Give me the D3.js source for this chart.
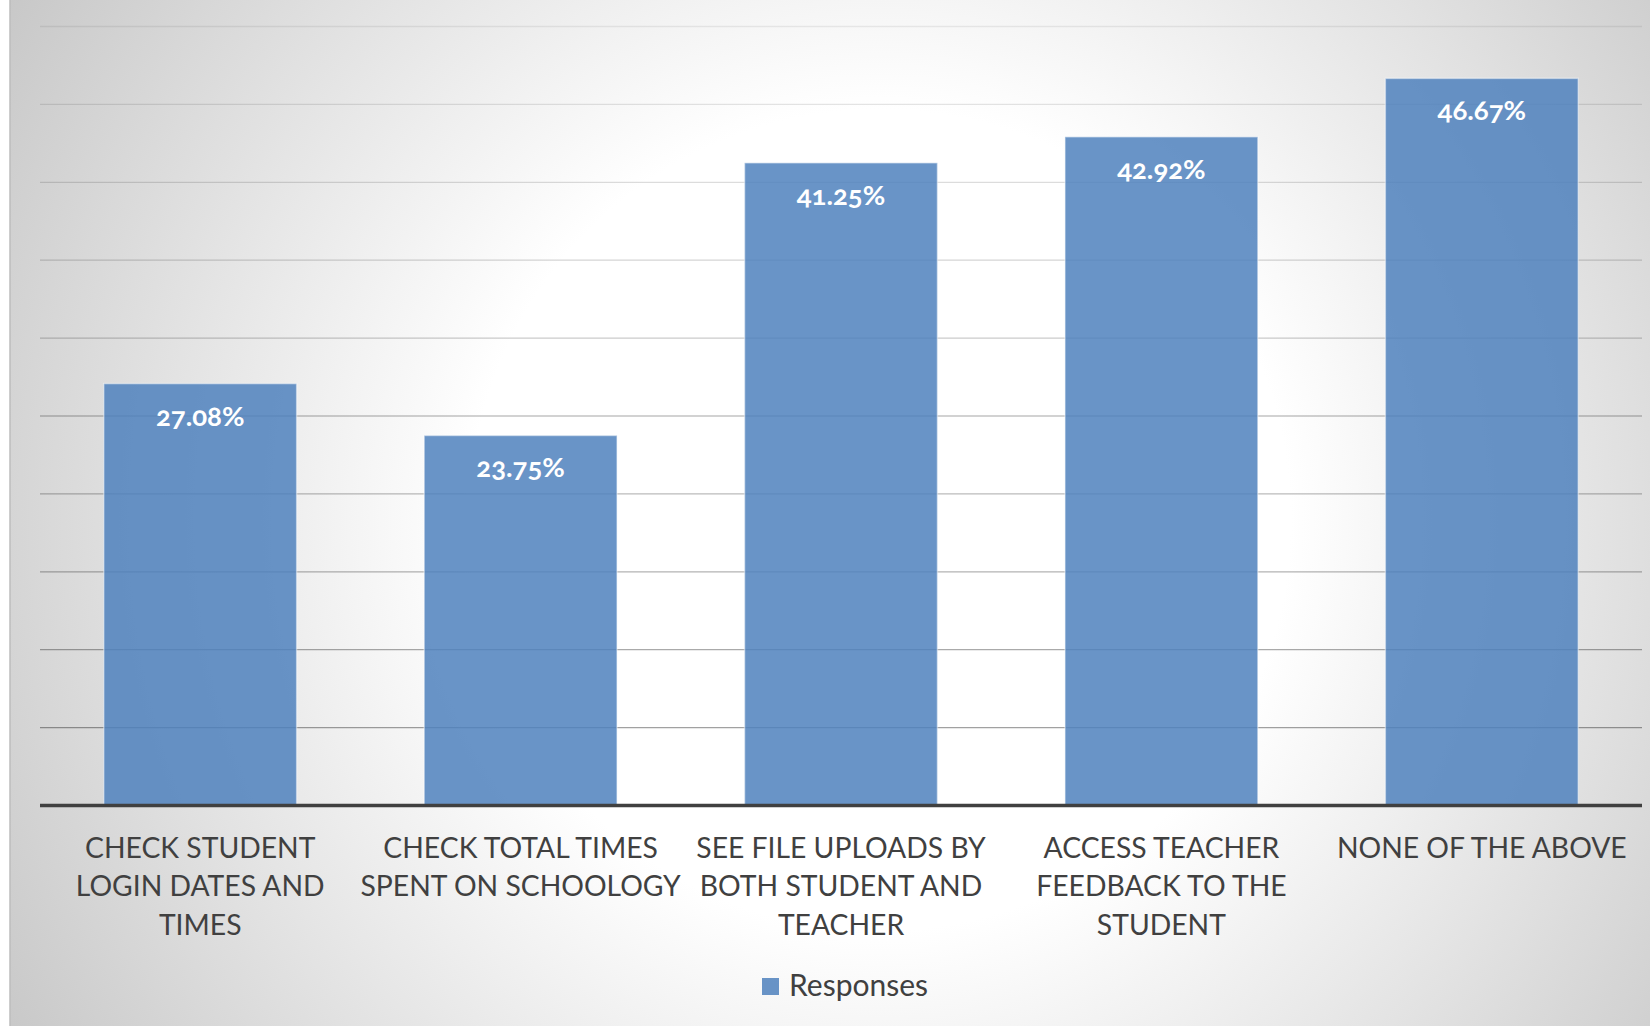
<!DOCTYPE html>
<html>
<head>
<meta charset="utf-8">
<script src="https://cdn.jsdelivr.net/npm/d3@7"></script>
<style>
  html, body { margin: 0; padding: 0; background: #ffffff; }
  svg { display: block; }
  text { font-family: Lato, "Open Sans", sans-serif; }
</style>
</head>
<body>
<svg id="chart" width="1650" height="1026"></svg>
<script>
// ---- data ----
const categories = [
  "CHECK STUDENT\nLOGIN DATES AND\nTIMES",
  "CHECK TOTAL TIMES\nSPENT ON SCHOOLOGY",
  "SEE FILE UPLOADS BY\nBOTH STUDENT AND\nTEACHER",
  "ACCESS TEACHER\nFEEDBACK TO THE\nSTUDENT",
  "NONE OF THE ABOVE"
];
const responses = [27.08, 23.75, 41.25, 42.92, 46.67];
const gridTicks = [5, 10, 15, 20, 25, 30, 35, 40, 45, 50];
const seriesName = "Responses";

// ---- layout ----
const W = 1650, H = 1026;
const plot = { left: 40, right: 1642, top: 26.5, bottom: 805.5 };
const svg = d3.select("#chart");
const defs = svg.append("defs");

const bg = defs.append("radialGradient").attr("id", "bg")
  .attr("gradientUnits", "userSpaceOnUse")
  .attr("cx", 880).attr("cy", 520).attr("r", 1080);
bg.append("stop").attr("offset", 0).attr("stop-color", "#ffffff");
bg.append("stop").attr("offset", 0.38).attr("stop-color", "#ffffff");
bg.append("stop").attr("offset", 1).attr("stop-color", "#c2c2c2");

svg.append("rect").attr("x", 0).attr("y", 0).attr("width", W).attr("height", H).attr("fill", "#ffffff");
svg.append("rect").attr("x", 10).attr("y", 0).attr("width", W - 10).attr("height", H).attr("fill", "url(#bg)");
svg.append("line").attr("x1", 10).attr("x2", 10).attr("y1", 0).attr("y2", H)
  .attr("stroke", "#bdbdbd").attr("stroke-width", 1.5);

const x = d3.scaleBand().domain(categories).range([plot.left, plot.right])
  .paddingInner(0.398).paddingOuter(0.199);
const y = d3.scaleLinear().domain([0, 50]).range([plot.bottom, plot.top]);

// gridlines
svg.append("g").selectAll("line").data(gridTicks).join("line")
  .attr("x1", plot.left).attr("x2", plot.right)
  .attr("y1", d => y(d)).attr("y2", d => y(d))
  .attr("stroke", d => `rgba(0,0,0,${0.06 + 0.34 * (y(d) / plot.bottom)})`)
  .attr("stroke-width", 1.3);

// bars
const barFill = "#4f81bd";
svg.append("g").selectAll("rect").data(responses).join("rect")
  .attr("x", (d, i) => x(categories[i]))
  .attr("y", d => y(d))
  .attr("width", x.bandwidth())
  .attr("height", d => y(0) - y(d))
  .attr("fill", barFill).attr("fill-opacity", 0.85)
  .attr("stroke", "rgba(255,255,255,0.45)").attr("stroke-width", 1.5);

// data labels
svg.append("g").selectAll("text").data(responses).join("text")
  .attr("x", (d, i) => x(categories[i]) + x.bandwidth() / 2)
  .attr("y", d => y(d) + 42)
  .attr("text-anchor", "middle")
  .attr("fill", "#ffffff")
  .attr("font-weight", "bold")
  .attr("font-size", 27.5)
  .style("font-variant-numeric", "oldstyle-nums")
  .text(d => d.toFixed(2) + "%");

// x axis
const xAxis = d3.axisBottom(x).tickSize(0).tickPadding(0);
const gx = svg.append("g").attr("transform", `translate(0,${plot.bottom})`).call(xAxis);
gx.select(".domain").attr("stroke", "#404040").attr("stroke-width", 3.5)
  .attr("d", `M${plot.left},0H${plot.right}`);
gx.selectAll(".tick text").remove();
gx.selectAll(".tick").each(function(d) {
  const t = d3.select(this).append("text")
    .attr("text-anchor", "middle")
    .attr("fill", "#404040")
    .attr("font-size", 28.3);
  d.split("\n").forEach((ln, i) => {
    t.append("tspan").attr("x", 0).attr("y", 52 + i * 38.5).text(ln);
  });
});

// legend
const lg = svg.append("g").attr("transform", "translate(762,978)");
lg.append("rect").attr("width", 17).attr("height", 17).attr("fill", barFill).attr("fill-opacity", 0.85);
lg.append("text").attr("x", 27).attr("y", 18).attr("fill", "#404040").attr("font-size", 30).text(seriesName);
</script>
</body>
</html>
